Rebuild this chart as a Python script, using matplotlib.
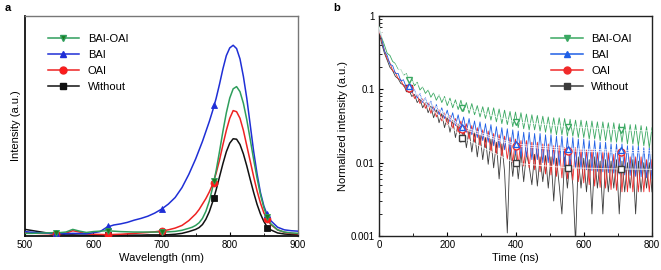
import numpy as np
import matplotlib
matplotlib.use("Agg")
import matplotlib.pyplot as plt
from matplotlib.ticker import MultipleLocator, LogLocator, FixedLocator, FixedFormatter, NullFormatter

plt.rcParams['font.family'] = ['Liberation Sans', 'DejaVu Sans']

# ---------------- Panel a: PL spectra ----------------
wl = [500, 510, 520, 530, 540, 550, 560, 570, 580, 590, 600, 610, 620, 630, 640, 650,
      660, 670, 680, 690, 700, 710, 720, 730, 740, 745, 750, 755, 760, 765, 770, 775,
      780, 785, 790, 795, 800, 805, 810, 815, 820, 825, 830, 835, 840, 845, 850, 855,
      860, 870, 880, 890, 900]

pl_without = [0.030, 0.025, 0.020, 0.015, 0.010, 0.007, 0.005, 0.005, 0.004, 0.004, 0.004,
              0.004, 0.004, 0.004, 0.004, 0.004, 0.004, 0.004, 0.005, 0.005, 0.005, 0.006,
              0.008, 0.012, 0.020, 0.025, 0.030, 0.038, 0.052, 0.076, 0.110, 0.156, 0.209,
              0.269, 0.329, 0.383, 0.422, 0.442, 0.440, 0.416, 0.373, 0.318, 0.257, 0.198,
              0.144, 0.100, 0.066, 0.040, 0.028, 0.014, 0.009, 0.007, 0.006]
pl_oai = [0.015, 0.013, 0.012, 0.011, 0.010, 0.010, 0.013, 0.024, 0.018, 0.010, 0.008,
          0.007, 0.006, 0.007, 0.008, 0.010, 0.012, 0.014, 0.016, 0.019, 0.023, 0.028,
          0.036, 0.048, 0.070, 0.085, 0.100, 0.120, 0.145, 0.170, 0.200, 0.235, 0.285,
          0.345, 0.415, 0.480, 0.535, 0.570, 0.565, 0.535, 0.480, 0.410, 0.340, 0.270,
          0.205, 0.150, 0.105, 0.075, 0.052, 0.028, 0.017, 0.012, 0.010]
pl_bai = [0.020, 0.017, 0.015, 0.013, 0.012, 0.011, 0.010, 0.012, 0.011, 0.010, 0.015,
          0.020, 0.040, 0.050, 0.055, 0.062, 0.072, 0.080, 0.090, 0.104, 0.122, 0.145,
          0.175, 0.220, 0.280, 0.315, 0.350, 0.390, 0.430, 0.475, 0.520, 0.570, 0.625,
          0.690, 0.760, 0.820, 0.855, 0.867, 0.852, 0.805, 0.725, 0.625, 0.505, 0.385,
          0.283, 0.197, 0.136, 0.095, 0.070, 0.040, 0.028, 0.024, 0.022]
pl_baioai = [0.012, 0.012, 0.013, 0.014, 0.015, 0.015, 0.018, 0.030, 0.022, 0.016, 0.020,
             0.022, 0.024, 0.022, 0.020, 0.019, 0.018, 0.018, 0.018, 0.018, 0.018, 0.019,
             0.021, 0.026, 0.035, 0.040, 0.048, 0.060, 0.080, 0.112, 0.158, 0.222, 0.296,
             0.384, 0.476, 0.560, 0.627, 0.669, 0.679, 0.656, 0.603, 0.528, 0.439, 0.348,
             0.263, 0.188, 0.129, 0.084, 0.056, 0.028, 0.018, 0.014, 0.012]

mk_wl = [545, 622, 700, 777, 855]
mk_without = [0.005, 0.004, 0.005, 0.174, 0.035]
mk_oai = [0.008, 0.006, 0.022, 0.240, 0.076]
mk_bai = [0.012, 0.045, 0.122, 0.595, 0.100]
mk_baioai = [0.015, 0.025, 0.018, 0.250, 0.085]

# ---------------- Panel b: TRPL decays ----------------
t = list(range(0, 801, 8))

tr_baioai = [0.72, 0.52, 0.40, 0.31, 0.29, 0.24, 0.225, 0.19, 0.185, 0.155, 0.165, 0.13, 0.14,
             0.112, 0.125, 0.098, 0.108, 0.088, 0.098, 0.078, 0.090, 0.071, 0.084, 0.066,
             0.080, 0.060, 0.076, 0.056, 0.072, 0.053, 0.071, 0.050, 0.066, 0.047, 0.064,
             0.045, 0.060, 0.042, 0.058, 0.040, 0.057, 0.038, 0.056, 0.036, 0.054, 0.034,
             0.052, 0.033, 0.050, 0.031, 0.049, 0.030, 0.048, 0.029, 0.046, 0.028, 0.045,
             0.028, 0.044, 0.027, 0.043, 0.026, 0.042, 0.025, 0.041, 0.024, 0.041, 0.024,
             0.040, 0.023, 0.039, 0.023, 0.038, 0.022, 0.038, 0.022, 0.037, 0.021, 0.037,
             0.021, 0.036, 0.020, 0.036, 0.020, 0.035, 0.019, 0.035, 0.019, 0.034, 0.019,
             0.034, 0.018, 0.033, 0.018, 0.033, 0.017, 0.032, 0.017, 0.031, 0.016, 0.030]
tr_bai = [0.70, 0.50, 0.33, 0.29, 0.22, 0.21, 0.165, 0.165, 0.13, 0.135, 0.105, 0.118, 0.09,
          0.10, 0.076, 0.088, 0.066, 0.077, 0.058, 0.069, 0.050, 0.062, 0.045, 0.056, 0.040,
          0.052, 0.036, 0.048, 0.032, 0.045, 0.029, 0.042, 0.026, 0.040, 0.024, 0.037, 0.022,
          0.036, 0.020, 0.034, 0.019, 0.033, 0.017, 0.031, 0.016, 0.030, 0.015, 0.029, 0.014,
          0.028, 0.013, 0.027, 0.012, 0.026, 0.012, 0.026, 0.011, 0.025, 0.011, 0.025, 0.010,
          0.024, 0.010, 0.024, 0.0095, 0.023, 0.0092, 0.023, 0.009, 0.022, 0.0088, 0.022,
          0.0085, 0.021, 0.0082, 0.021, 0.008, 0.020, 0.0078, 0.020, 0.0076, 0.019, 0.0075,
          0.019, 0.0073, 0.018, 0.0072, 0.018, 0.007, 0.018, 0.0068, 0.017, 0.0067, 0.017,
          0.0065, 0.017, 0.0064, 0.016, 0.0062, 0.016, 0.0060]
tr_oai = [0.66, 0.46, 0.34, 0.26, 0.23, 0.18, 0.17, 0.14, 0.135, 0.11, 0.115, 0.09, 0.098,
          0.075, 0.085, 0.064, 0.075, 0.055, 0.066, 0.047, 0.059, 0.042, 0.053, 0.037, 0.048,
          0.033, 0.044, 0.029, 0.040, 0.026, 0.037, 0.024, 0.034, 0.021, 0.032, 0.019, 0.030,
          0.017, 0.028, 0.016, 0.027, 0.014, 0.025, 0.013, 0.024, 0.012, 0.023, 0.011, 0.022,
          0.010, 0.021, 0.0095, 0.020, 0.009, 0.020, 0.0085, 0.019, 0.008, 0.019, 0.0075,
          0.018, 0.007, 0.018, 0.0068, 0.017, 0.0065, 0.017, 0.0062, 0.016, 0.006, 0.016,
          0.0058, 0.016, 0.0055, 0.015, 0.0053, 0.015, 0.005, 0.015, 0.0048, 0.014, 0.0046,
          0.014, 0.0045, 0.014, 0.0043, 0.013, 0.0042, 0.013, 0.004, 0.013, 0.004, 0.012,
          0.004, 0.012, 0.004, 0.012, 0.004, 0.011, 0.004, 0.011]
tr_without = [0.62, 0.42, 0.31, 0.25, 0.20, 0.18, 0.15, 0.14, 0.12, 0.115, 0.095, 0.098, 0.08,
              0.085, 0.066, 0.074, 0.056, 0.066, 0.048, 0.059, 0.041, 0.053, 0.035, 0.047,
              0.030, 0.042, 0.026, 0.038, 0.022, 0.034, 0.019, 0.031, 0.016, 0.028, 0.014,
              0.026, 0.012, 0.024, 0.011, 0.022,
              0.0095, 0.021, 0.0085, 0.019, 0.006, 0.018, 0.0075, 0.0011, 0.016, 0.0065,
              0.015, 0.006, 0.014, 0.0055, 0.0135, 0.009, 0.005, 0.013, 0.0048, 0.012,
              0.0055, 0.0125, 0.0045, 0.012, 0.003, 0.0115, 0.005, 0.002, 0.012, 0.0045,
              0.011, 0.005, 0.0008, 0.012, 0.0045, 0.0115, 0.004, 0.011, 0.002, 0.012,
              0.0045, 0.0105, 0.002, 0.011, 0.004, 0.0105, 0.0045, 0.011, 0.002, 0.0105,
              0.004, 0.010, 0.0045, 0.011, 0.002, 0.0105, 0.004, 0.010, 0.0045, 0.010,
              0.004]

fit_t = [0, 88, 244, 400, 555, 710, 800]
fit_baioai = [0.70, 0.135, 0.056, 0.036, 0.031, 0.028, 0.027]
fit_bai = [0.70, 0.112, 0.031, 0.018, 0.0155, 0.0148, 0.0145]
fit_oai = [0.66, 0.105, 0.029, 0.017, 0.0145, 0.0138, 0.0135]
fit_without = [0.62, 0.105, 0.022, 0.0098, 0.0085, 0.0082, 0.0081]

labels = ['BAI-OAI', 'BAI', 'OAI', 'Without']

# colours
ca = {'BAI-OAI': '#2f9e5c', 'BAI': '#1f2fd6', 'OAI': '#ee2222', 'Without': '#111111'}
cb = {'BAI-OAI': '#3aa862', 'BAI': '#1f5fe6', 'OAI': '#f02a2a', 'Without': '#3c3c3c'}
mfa = {'BAI-OAI': '#1d7a1d', 'BAI': '#1f2fd6', 'OAI': '#ff1a1a', 'Without': '#111111'}
mks = {'BAI-OAI': 'v', 'BAI': '^', 'OAI': 'o', 'Without': 's'}

fig = plt.figure(figsize=(6.61, 2.70), dpi=100)
axa = fig.add_axes([25/661, 1-236/270, 273/661, 220/270])
axb = fig.add_axes([379/661, 1-236/270, 273/661, 220/270])

# ---- panel a ----
pl = {'BAI-OAI': pl_baioai, 'BAI': pl_bai, 'OAI': pl_oai, 'Without': pl_without}
mk = {'BAI-OAI': mk_baioai, 'BAI': mk_bai, 'OAI': mk_oai, 'Without': mk_without}
order_draw = ['Without', 'OAI', 'BAI', 'BAI-OAI']
z = {'Without': 2, 'OAI': 3, 'BAI': 4, 'BAI-OAI': 5}
for name in order_draw:
    axa.plot(wl, pl[name], color=ca[name], lw=1.1, zorder=z[name])
    axa.plot(mk_wl, mk[name], ls='none', marker=mks[name], ms=5,
             mfc=mfa[name], mec=ca[name], mew=0.6, zorder=z[name] + 5)
handles = []
for name in labels:
    h, = axa.plot([], [], color=ca[name], lw=1.1, marker=mks[name], ms=5,
                  mfc=mfa[name], mec=ca[name])
    handles.append(h)
axa.legend(handles, labels, loc='upper left', bbox_to_anchor=(0.055, 0.955), frameon=False,
           fontsize=8, handlelength=2.8, handletextpad=0.8, labelspacing=0.55, borderaxespad=0.3)
axa.set_xlim(500, 900)
axa.set_ylim(0, 1.0)
axa.set_yticks([])
axa.xaxis.set_major_locator(MultipleLocator(100))
axa.xaxis.set_minor_locator(MultipleLocator(50))
axa.tick_params(axis='x', which='major', direction='in', length=3, width=0.8, labelsize=7, pad=3)
axa.tick_params(axis='x', which='minor', direction='in', length=2, width=0.6)
axa.set_xlabel('Wavelength (nm)', fontsize=8, labelpad=2)
axa.set_ylabel('Intensity (a.u.)', fontsize=8, labelpad=3)
for s in ['left', 'bottom']:
    axa.spines[s].set_color('#111111')
    axa.spines[s].set_linewidth(1.3)
for s in ['top', 'right']:
    axa.spines[s].set_color('#777777')
    axa.spines[s].set_linewidth(1.0)

# ---- panel b ----
tr = {'BAI-OAI': tr_baioai, 'BAI': tr_bai, 'OAI': tr_oai, 'Without': tr_without}
fit = {'BAI-OAI': fit_baioai, 'BAI': fit_bai, 'OAI': fit_oai, 'Without': fit_without}
for name in order_draw:
    axb.plot(t, tr[name], color=cb[name], lw=0.6, zorder=z[name])
for name in order_draw:
    axb.plot(fit_t, fit[name], color='white', lw=0.8, alpha=0.7, zorder=10)
    axb.plot(fit_t[1:6], fit[name][1:6], ls='none', marker=mks[name], ms=5, mfc='white',
             mec=cb[name], mew=1.0, zorder=11)
handles = []
for name in labels:
    h, = axb.plot([], [], color=cb[name], lw=1.1, marker=mks[name], ms=5,
                  mfc=cb[name], mec=cb[name])
    handles.append(h)
axb.legend(handles, labels, loc='upper right', bbox_to_anchor=(0.955, 0.955), frameon=False,
           fontsize=8, handlelength=2.8, handletextpad=0.8, labelspacing=0.55, borderaxespad=0.3)
axb.set_yscale('log')
axb.set_xlim(0, 800)
axb.set_ylim(0.001, 1)
axb.yaxis.set_major_locator(FixedLocator([0.001, 0.01, 0.1, 1]))
axb.yaxis.set_major_formatter(FixedFormatter(['0.001', '0.01', '0.1', '1']))
axb.yaxis.set_minor_locator(LogLocator(base=10, subs=np.arange(2, 10)))
axb.yaxis.set_minor_formatter(NullFormatter())
axb.xaxis.set_major_locator(MultipleLocator(200))
axb.xaxis.set_minor_locator(MultipleLocator(100))
axb.tick_params(which='major', direction='in', length=3, width=0.8, labelsize=7, pad=3)
axb.tick_params(which='minor', direction='in', length=2, width=0.6)
axb.set_xlabel('Time (ns)', fontsize=8, labelpad=2)
axb.set_ylabel('Normalized intensity (a.u.)', fontsize=8, labelpad=2)
for s in axb.spines.values():
    s.set_color('#222222')
    s.set_linewidth(1.0)

fig.text(5/661, 1-8/270, 'a', fontsize=8, fontweight='bold', va='center', ha='left')
fig.text(333/661, 1-8/270, 'b', fontsize=8, fontweight='bold', va='center', ha='left')

fig.savefig('out.png', dpi=100)
